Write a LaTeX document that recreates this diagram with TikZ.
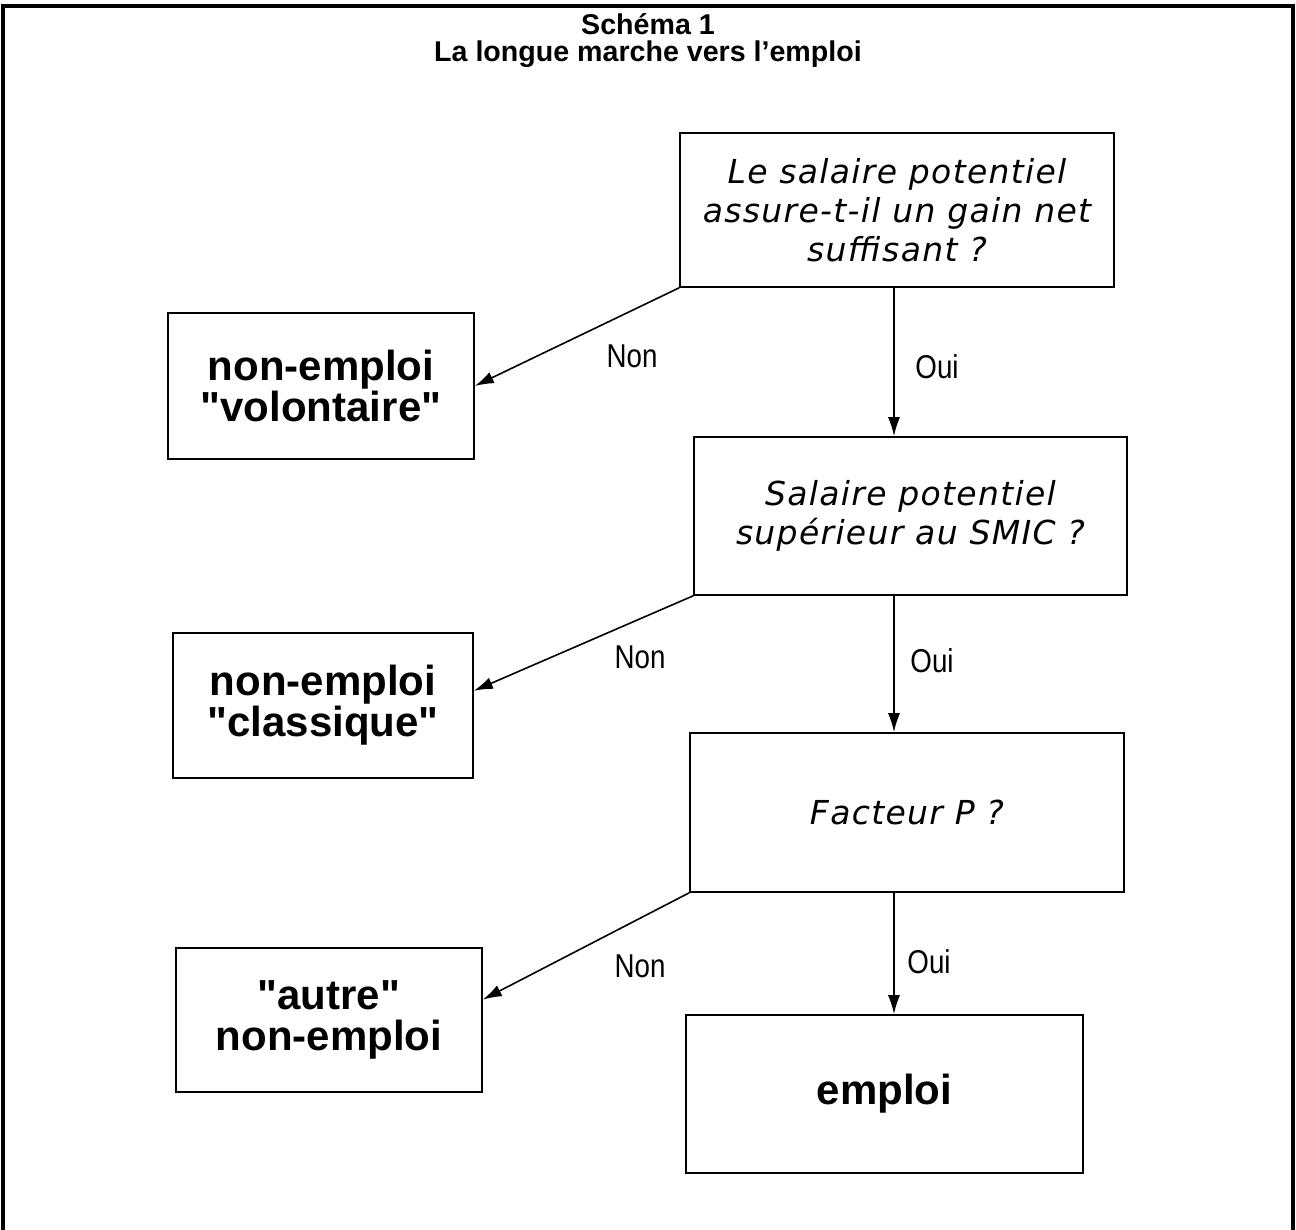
\documentclass[tikz,border=0pt]{standalone}
\usepackage{fontspec}
\setmainfont{Liberation Sans}
\newfontfamily\questfont[LetterSpace=4]{DejaVu Sans Oblique}
\newfontfamily\narrowfont[FakeStretch=0.84]{Liberation Sans}
\usepackage{tikz}
\usetikzlibrary{arrows.meta,calc,positioning}
\tikzset{
  qbox/.style={draw, line width=0.8pt, align=center, inner sep=0pt,
    font=\questfont\fontsize{16.5}{19.5}\selectfont},
  rbox/.style={draw, line width=0.8pt, align=center, inner sep=0pt,
    font=\bfseries\fontsize{21}{20.5}\selectfont},
  yesno/.style={font=\narrowfont\fontsize{16.5}{16.5}\selectfont, inner sep=0pt},
  flow/.style={line width=0.8pt, -{Latex[length=9.5pt,width=6pt]}},
  titletext/.style={font=\bfseries\fontsize{14.3}{13.5}\selectfont, inner sep=0pt, align=center}
}

\begin{document}
\begin{tikzpicture}[x=0.5pt,y=-0.5pt]
\useasboundingbox (0,0) rectangle (1296,1230);
\draw[line width=2pt] (3,1230) -- (3,6) -- (1293,6) -- (1293,1230);

\node[titletext, anchor=north] (title) at (648,13) {Schéma 1\\La longue marche vers l’emploi};

\node[qbox, minimum width=217pt, minimum height=77pt] (q1) at (897,210)
  {Le salaire potentiel\\assure-t-il un gain net\\suffisant ?};
\node[qbox, minimum width=216.5pt, minimum height=79pt] (q2) at (910.5,516)
  {Salaire potentiel\\supérieur au SMIC ?};
\node[qbox, minimum width=217pt, minimum height=79.5pt] (q3) at (907,812.5)
  {Facteur P ?};

\node[rbox, minimum width=153pt, minimum height=73pt] (vol) at (321,386)
  {non-emploi\\\textquotedbl volontaire\textquotedbl};
\node[rbox, minimum width=150pt, minimum height=72.5pt] (cla) at (323,705.5)
  {non-emploi\\\textquotedbl classique\textquotedbl};
\node[rbox, minimum width=153pt, minimum height=72pt] (aut) at (329,1020)
  {\textquotedbl autre\textquotedbl\\non-emploi};
\node[rbox, minimum width=198.5pt, minimum height=79pt] (emp) at (884.5,1094)
  {emploi};

\coordinate (axis) at (894,0);
\coordinate (claIn) at ($(cla.north east)!0.4!(cla.south east)$);
\coordinate (autIn) at ($(aut.north east)!0.36!(aut.south east)$);

\draw[flow] (q1.south west) -- (vol.east);
\draw[flow] (q2.south west) -- (claIn);
\draw[flow] (q3.south west) -- (autIn);
\draw[flow] (q1.south -| axis) -- (q2.north -| axis);
\draw[flow] (q2.south -| axis) -- (q3.north -| axis);
\draw[flow] (q3.south -| axis) -- (emp.north -| axis);

\node[yesno] (non1) at (632,356) {Non};
\node[yesno] (oui1) at (937,367) {Oui};
\node[yesno] (non2) at (640,657) {Non};
\node[yesno] (oui2) at (932,661) {Oui};
\node[yesno] (non3) at (640,966) {Non};
\node[yesno] (oui3) at (929,962) {Oui};
\end{tikzpicture}
\end{document}
